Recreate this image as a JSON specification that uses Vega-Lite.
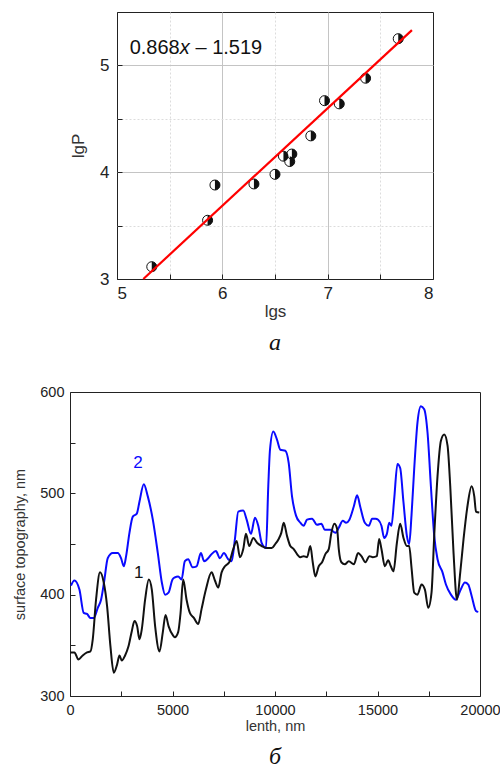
{
  "$schema": "https://vega.github.io/schema/vega-lite/v6.json",
  "padding": {"left": 12, "top": 11, "right": 5, "bottom": 2},
  "autosize": {"type": "pad"},
  "bounds": "flush",
  "center": true,
  "spacing": 113,
  "config": {
    "font": "Liberation Sans",
    "view": {"stroke": "#222", "strokeWidth": 1},
    "axis": {"domain": false, "tickColor": "#222", "tickSize": -5, "labelColor": "#222", "titleColor": "#333", "titleFontWeight": "normal", "labelFont": "Liberation Sans", "titleFont": "Liberation Sans", "grid": false},
    "title": {"font": "Liberation Serif", "fontStyle": "italic", "fontWeight": "normal", "fontSize": 24, "color": "#111", "orient": "bottom", "anchor": "middle"}
  },
  "datasets": {
    "pts": [
      {"lgs": 5.33, "lgP": 3.115},
      {"lgs": 5.86, "lgP": 3.55},
      {"lgs": 5.93, "lgP": 3.88},
      {"lgs": 6.30, "lgP": 3.89},
      {"lgs": 6.50, "lgP": 3.98},
      {"lgs": 6.58, "lgP": 4.15},
      {"lgs": 6.64, "lgP": 4.10},
      {"lgs": 6.66, "lgP": 4.17},
      {"lgs": 6.84, "lgP": 4.34},
      {"lgs": 6.97, "lgP": 4.67},
      {"lgs": 7.11, "lgP": 4.64},
      {"lgs": 7.36, "lgP": 4.88},
      {"lgs": 7.67, "lgP": 5.25}
    ],
    "fit": [
      {"lgs": 5.25, "lgP": 3.0},
      {"lgs": 7.80, "lgP": 5.33}
    ],
    "eqn": [
      {"lgs": 5.12, "lgP": 5.16, "t": "0.868", "st": "n"},
      {"lgs": 5.595, "lgP": 5.16, "t": "x", "st": "i"},
      {"lgs": 5.745, "lgP": 5.16, "t": "– 1.519", "st": "n"}
    ],
    "curves": [
      {"s": "2", "x": 50, "y": 409}, {"s": "2", "x": 213, "y": 414}, {"s": "2", "x": 460, "y": 405}, {"s": "2", "x": 670, "y": 382}, {"s": "2", "x": 830, "y": 381}, {"s": "2", "x": 995, "y": 377}, {"s": "2", "x": 1160, "y": 377}, {"s": "2", "x": 1355, "y": 387}, {"s": "2", "x": 1515, "y": 395}, {"s": "2", "x": 1680, "y": 415}, {"s": "2", "x": 1840, "y": 436}, {"s": "2", "x": 2085, "y": 441}, {"s": "2", "x": 2330, "y": 441}, {"s": "2", "x": 2490, "y": 436}, {"s": "2", "x": 2625, "y": 428}, {"s": "2", "x": 2737, "y": 438}, {"s": "2", "x": 2900, "y": 461}, {"s": "2", "x": 3063, "y": 477}, {"s": "2", "x": 3258, "y": 480}, {"s": "2", "x": 3390, "y": 492}, {"s": "2", "x": 3600, "y": 509}, {"s": "2", "x": 3795, "y": 497}, {"s": "2", "x": 4040, "y": 474}, {"s": "2", "x": 4284, "y": 441}, {"s": "2", "x": 4480, "y": 412}, {"s": "2", "x": 4640, "y": 400}, {"s": "2", "x": 4805, "y": 402}, {"s": "2", "x": 5000, "y": 415}, {"s": "2", "x": 5115, "y": 417}, {"s": "2", "x": 5276, "y": 418}, {"s": "2", "x": 5440, "y": 415}, {"s": "2", "x": 5603, "y": 433}, {"s": "2", "x": 5765, "y": 435}, {"s": "2", "x": 5980, "y": 427}, {"s": "2", "x": 6175, "y": 428}, {"s": "2", "x": 6385, "y": 441}, {"s": "2", "x": 6547, "y": 433}, {"s": "2", "x": 6742, "y": 436}, {"s": "2", "x": 6907, "y": 440}, {"s": "2", "x": 7117, "y": 443}, {"s": "2", "x": 7313, "y": 436}, {"s": "2", "x": 7508, "y": 441}, {"s": "2", "x": 7718, "y": 435}, {"s": "2", "x": 7883, "y": 433}, {"s": "2", "x": 8046, "y": 455}, {"s": "2", "x": 8207, "y": 482}, {"s": "2", "x": 8451, "y": 483}, {"s": "2", "x": 8617, "y": 474}, {"s": "2", "x": 8827, "y": 460}, {"s": "2", "x": 9023, "y": 476}, {"s": "2", "x": 9184, "y": 468}, {"s": "2", "x": 9350, "y": 451}, {"s": "2", "x": 9560, "y": 446}, {"s": "2", "x": 9672, "y": 507}, {"s": "2", "x": 9755, "y": 543}, {"s": "2", "x": 9917, "y": 561}, {"s": "2", "x": 10097, "y": 553}, {"s": "2", "x": 10260, "y": 543}, {"s": "2", "x": 10503, "y": 542}, {"s": "2", "x": 10668, "y": 530}, {"s": "2", "x": 10830, "y": 497}, {"s": "2", "x": 11025, "y": 478}, {"s": "2", "x": 11236, "y": 471}, {"s": "2", "x": 11400, "y": 468}, {"s": "2", "x": 11562, "y": 474}, {"s": "2", "x": 11807, "y": 475}, {"s": "2", "x": 12050, "y": 469}, {"s": "2", "x": 12262, "y": 470}, {"s": "2", "x": 12428, "y": 464}, {"s": "2", "x": 12701, "y": 464}, {"s": "2", "x": 12946, "y": 461}, {"s": "2", "x": 13111, "y": 466}, {"s": "2", "x": 13307, "y": 473}, {"s": "2", "x": 13468, "y": 471}, {"s": "2", "x": 13629, "y": 474}, {"s": "2", "x": 13844, "y": 487}, {"s": "2", "x": 14005, "y": 498}, {"s": "2", "x": 14167, "y": 486}, {"s": "2", "x": 14381, "y": 471}, {"s": "2", "x": 14577, "y": 468}, {"s": "2", "x": 14738, "y": 475}, {"s": "2", "x": 14900, "y": 475}, {"s": "2", "x": 15031, "y": 474}, {"s": "2", "x": 15193, "y": 468}, {"s": "2", "x": 15325, "y": 456}, {"s": "2", "x": 15457, "y": 460}, {"s": "2", "x": 15570, "y": 471}, {"s": "2", "x": 15680, "y": 468}, {"s": "2", "x": 15813, "y": 494}, {"s": "2", "x": 15974, "y": 529}, {"s": "2", "x": 16106, "y": 525}, {"s": "2", "x": 16268, "y": 491}, {"s": "2", "x": 16433, "y": 458}, {"s": "2", "x": 16546, "y": 450}, {"s": "2", "x": 16658, "y": 478}, {"s": "2", "x": 16790, "y": 524}, {"s": "2", "x": 16951, "y": 570}, {"s": "2", "x": 17117, "y": 586}, {"s": "2", "x": 17278, "y": 583}, {"s": "2", "x": 17440, "y": 560}, {"s": "2", "x": 17605, "y": 507}, {"s": "2", "x": 17767, "y": 458}, {"s": "2", "x": 17928, "y": 435}, {"s": "2", "x": 18172, "y": 422}, {"s": "2", "x": 18338, "y": 410}, {"s": "2", "x": 18582, "y": 400}, {"s": "2", "x": 18827, "y": 395}, {"s": "2", "x": 19037, "y": 404}, {"s": "2", "x": 19266, "y": 412}, {"s": "2", "x": 19428, "y": 410}, {"s": "2", "x": 19590, "y": 399}, {"s": "2", "x": 19804, "y": 384}, {"s": "2", "x": 19916, "y": 383},
      {"s": "1", "x": 20, "y": 343}, {"s": "1", "x": 215, "y": 343}, {"s": "1", "x": 410, "y": 336}, {"s": "1", "x": 620, "y": 340}, {"s": "1", "x": 830, "y": 343}, {"s": "1", "x": 995, "y": 344}, {"s": "1", "x": 1110, "y": 356}, {"s": "1", "x": 1270, "y": 395}, {"s": "1", "x": 1465, "y": 422}, {"s": "1", "x": 1646, "y": 412}, {"s": "1", "x": 1808, "y": 389}, {"s": "1", "x": 1973, "y": 349}, {"s": "1", "x": 2135, "y": 323}, {"s": "1", "x": 2296, "y": 331}, {"s": "1", "x": 2413, "y": 340}, {"s": "1", "x": 2525, "y": 335}, {"s": "1", "x": 2687, "y": 340}, {"s": "1", "x": 2853, "y": 349}, {"s": "1", "x": 3014, "y": 364}, {"s": "1", "x": 3146, "y": 374}, {"s": "1", "x": 3273, "y": 369}, {"s": "1", "x": 3390, "y": 356}, {"s": "1", "x": 3503, "y": 366}, {"s": "1", "x": 3664, "y": 395}, {"s": "1", "x": 3845, "y": 415}, {"s": "1", "x": 3991, "y": 405}, {"s": "1", "x": 4152, "y": 369}, {"s": "1", "x": 4367, "y": 344}, {"s": "1", "x": 4528, "y": 363}, {"s": "1", "x": 4660, "y": 380}, {"s": "1", "x": 4807, "y": 369}, {"s": "1", "x": 5017, "y": 360}, {"s": "1", "x": 5115, "y": 358}, {"s": "1", "x": 5276, "y": 363}, {"s": "1", "x": 5393, "y": 382}, {"s": "1", "x": 5520, "y": 415}, {"s": "1", "x": 5686, "y": 395}, {"s": "1", "x": 5847, "y": 382}, {"s": "1", "x": 6043, "y": 377}, {"s": "1", "x": 6253, "y": 371}, {"s": "1", "x": 6419, "y": 386}, {"s": "1", "x": 6629, "y": 405}, {"s": "1", "x": 6907, "y": 422}, {"s": "1", "x": 7069, "y": 414}, {"s": "1", "x": 7230, "y": 407}, {"s": "1", "x": 7396, "y": 422}, {"s": "1", "x": 7557, "y": 428}, {"s": "1", "x": 7767, "y": 432}, {"s": "1", "x": 7963, "y": 445}, {"s": "1", "x": 8129, "y": 453}, {"s": "1", "x": 8290, "y": 437}, {"s": "1", "x": 8451, "y": 445}, {"s": "1", "x": 8583, "y": 460}, {"s": "1", "x": 8744, "y": 448}, {"s": "1", "x": 8940, "y": 456}, {"s": "1", "x": 9135, "y": 451}, {"s": "1", "x": 9350, "y": 448}, {"s": "1", "x": 9594, "y": 446}, {"s": "1", "x": 9838, "y": 446}, {"s": "1", "x": 10015, "y": 450}, {"s": "1", "x": 10180, "y": 455}, {"s": "1", "x": 10307, "y": 461}, {"s": "1", "x": 10425, "y": 471}, {"s": "1", "x": 10586, "y": 458}, {"s": "1", "x": 10747, "y": 448}, {"s": "1", "x": 10913, "y": 445}, {"s": "1", "x": 11074, "y": 440}, {"s": "1", "x": 11236, "y": 437}, {"s": "1", "x": 11400, "y": 438}, {"s": "1", "x": 11562, "y": 437}, {"s": "1", "x": 11724, "y": 448}, {"s": "1", "x": 11841, "y": 432}, {"s": "1", "x": 11968, "y": 418}, {"s": "1", "x": 12134, "y": 428}, {"s": "1", "x": 12296, "y": 432}, {"s": "1", "x": 12457, "y": 440}, {"s": "1", "x": 12623, "y": 445}, {"s": "1", "x": 12750, "y": 461}, {"s": "1", "x": 12897, "y": 470}, {"s": "1", "x": 13029, "y": 465}, {"s": "1", "x": 13111, "y": 445}, {"s": "1", "x": 13238, "y": 432}, {"s": "1", "x": 13404, "y": 430}, {"s": "1", "x": 13600, "y": 433}, {"s": "1", "x": 13844, "y": 430}, {"s": "1", "x": 14054, "y": 441}, {"s": "1", "x": 14216, "y": 438}, {"s": "1", "x": 14411, "y": 432}, {"s": "1", "x": 14606, "y": 438}, {"s": "1", "x": 14772, "y": 437}, {"s": "1", "x": 14966, "y": 438}, {"s": "1", "x": 15080, "y": 455}, {"s": "1", "x": 15193, "y": 445}, {"s": "1", "x": 15358, "y": 428}, {"s": "1", "x": 15520, "y": 434}, {"s": "1", "x": 15651, "y": 428}, {"s": "1", "x": 15779, "y": 423}, {"s": "1", "x": 15945, "y": 451}, {"s": "1", "x": 16106, "y": 470}, {"s": "1", "x": 16268, "y": 456}, {"s": "1", "x": 16433, "y": 448}, {"s": "1", "x": 16546, "y": 448}, {"s": "1", "x": 16658, "y": 427}, {"s": "1", "x": 16790, "y": 402}, {"s": "1", "x": 16951, "y": 400}, {"s": "1", "x": 17147, "y": 410}, {"s": "1", "x": 17312, "y": 405}, {"s": "1", "x": 17474, "y": 387}, {"s": "1", "x": 17635, "y": 402}, {"s": "1", "x": 17767, "y": 458}, {"s": "1", "x": 17928, "y": 517}, {"s": "1", "x": 18094, "y": 552}, {"s": "1", "x": 18256, "y": 558}, {"s": "1", "x": 18417, "y": 547}, {"s": "1", "x": 18549, "y": 507}, {"s": "1", "x": 18710, "y": 441}, {"s": "1", "x": 18876, "y": 395}, {"s": "1", "x": 19037, "y": 422}, {"s": "1", "x": 19198, "y": 455}, {"s": "1", "x": 19393, "y": 488}, {"s": "1", "x": 19590, "y": 507}, {"s": "1", "x": 19721, "y": 497}, {"s": "1", "x": 19804, "y": 482}, {"s": "1", "x": 19965, "y": 481}
    ],
    "tags": [
      {"s": "2", "x": 3320, "y": 530},
      {"s": "1", "x": 3350, "y": 421}
    ]
  },
  "vconcat": [
    {
      "width": 316,
      "height": 267,
      "title": {"text": "a", "offset": 12},
      "layer": [
        {
          "data": {"name": "pts"},
          "mark": {"type": "point", "shape": "circle", "filled": true, "fill": "white", "stroke": "#111", "strokeWidth": 1, "size": 100, "opacity": 1},
          "encoding": {
            "x": {"field": "lgs", "type": "quantitative", "scale": {"domain": [5, 8], "nice": false, "zero": false},
              "axis": {"title": "lgs", "values": [5, 5.5, 6, 6.5, 7, 7.5, 8], "labelExpr": "datum.value % 1 === 0 ? format(datum.value, 'd') : ''", "labelFontSize": 17, "titleFontSize": 17, "labelPadding": 11, "titlePadding": 2,
                "grid": true, "gridOpacity": {"condition": {"test": "datum.value === 5 || datum.value === 8", "value": 0}, "value": 1}, "gridColor": {"condition": {"test": "datum.value % 1 !== 0", "value": "#dcdcdc"}, "value": "#c4c4c4"}, "gridDash": {"condition": {"test": "datum.value % 1 !== 0", "value": [2, 2]}, "value": []}}},
            "y": {"field": "lgP", "type": "quantitative", "scale": {"domain": [3, 5.5], "nice": false, "zero": false},
              "axis": {"title": "lgP", "values": [3, 3.5, 4, 4.5, 5, 5.5], "labelExpr": "datum.value % 1 === 0 ? format(datum.value, 'd') : ''", "labelFontSize": 17, "titleFontSize": 17, "labelPadding": 13, "titlePadding": 12,
                "grid": true, "gridOpacity": {"condition": {"test": "datum.value === 3 || datum.value === 5.5", "value": 0}, "value": 1}, "gridColor": {"condition": {"test": "datum.value % 1 !== 0", "value": "#dcdcdc"}, "value": "#c4c4c4"}, "gridDash": {"condition": {"test": "datum.value % 1 !== 0", "value": [2, 2]}, "value": []}}}
          }
        },
        {
          "data": {"name": "pts"},
          "mark": {"type": "point", "shape": "M0,-1A1,1 0 0 1 0,1Z", "filled": true, "fill": "#111", "strokeWidth": 0, "size": 100, "opacity": 1},
          "encoding": {
            "x": {"field": "lgs", "type": "quantitative"},
            "y": {"field": "lgP", "type": "quantitative"}
          }
        },
        {
          "data": {"name": "fit"},
          "mark": {"type": "line", "color": "#ff0000", "strokeWidth": 2.2},
          "encoding": {
            "x": {"field": "lgs", "type": "quantitative"},
            "y": {"field": "lgP", "type": "quantitative"}
          }
        },
        {
          "data": {"name": "eqn"},
          "transform": [{"filter": "datum.st === 'n'"}],
          "mark": {"type": "text", "align": "left", "baseline": "middle", "fontSize": 20, "color": "#111"},
          "encoding": {
            "x": {"field": "lgs", "type": "quantitative"},
            "y": {"field": "lgP", "type": "quantitative"},
            "text": {"field": "t"}
          }
        },
        {
          "data": {"name": "eqn"},
          "transform": [{"filter": "datum.st === 'i'"}],
          "mark": {"type": "text", "align": "left", "baseline": "middle", "fontSize": 20, "fontStyle": "italic", "color": "#111"},
          "encoding": {
            "x": {"field": "lgs", "type": "quantitative"},
            "y": {"field": "lgP", "type": "quantitative"},
            "text": {"field": "t"}
          }
        }
      ]
    },
    {
      "width": 410,
      "height": 304,
      "title": {"text": "б", "offset": 12},
      "layer": [
        {
          "data": {"name": "curves"},
          "mark": {"type": "line", "strokeWidth": 2, "interpolate": "monotone"},
          "encoding": {
            "x": {"field": "x", "type": "quantitative", "scale": {"domain": [0, 20000], "nice": false},
              "axis": {"title": "lenth, nm", "values": [0, 2500, 5000, 7500, 10000, 12500, 15000, 17500, 20000], "labelExpr": "datum.value % 5000 === 0 ? format(datum.value, 'd') : ''", "labelFontSize": 14.5, "titleFontSize": 14.5, "labelPadding": 12, "titlePadding": 3, "labelFlush": false}},
            "y": {"field": "y", "type": "quantitative", "scale": {"domain": [300, 600], "nice": false, "zero": false},
              "axis": {"title": "surface topography, nm", "values": [300, 350, 400, 450, 500, 550, 600], "labelExpr": "datum.value % 100 === 0 ? format(datum.value, 'd') : ''", "labelFontSize": 14.5, "titleFontSize": 14.5, "labelPadding": 11, "titlePadding": 12}},
            "color": {"field": "s", "type": "nominal", "scale": {"domain": ["1", "2"], "range": ["#111111", "#0a0aff"]}, "legend": null}
          }
        },
        {
          "data": {"name": "tags"},
          "mark": {"type": "text", "fontSize": 17, "align": "center", "baseline": "middle"},
          "encoding": {
            "x": {"field": "x", "type": "quantitative"},
            "y": {"field": "y", "type": "quantitative"},
            "text": {"field": "s"},
            "color": {"field": "s", "type": "nominal", "scale": {"domain": ["1", "2"], "range": ["#222222", "#2222cc"]}, "legend": null}
          }
        }
      ]
    }
  ]
}
